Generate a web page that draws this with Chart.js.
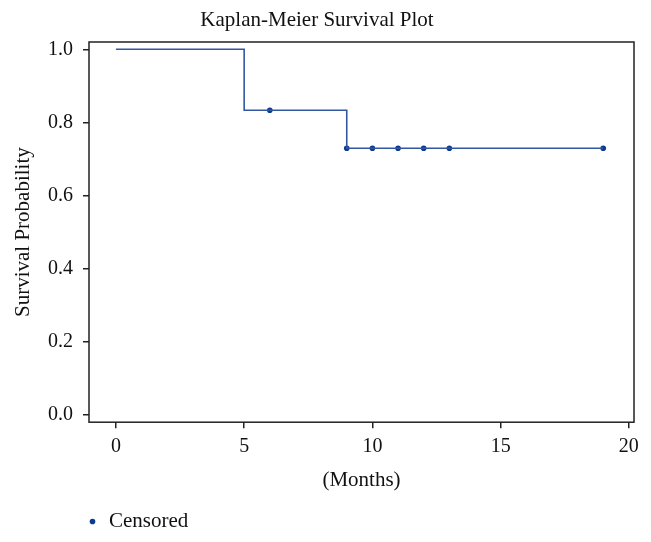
<!DOCTYPE html>
<html>
<head>
<meta charset="utf-8">
<script src="https://cdn.jsdelivr.net/npm/chart.js@4.4.1/dist/chart.umd.min.js"></script>
<style>
    body { margin: 0; background: #fff; }
    #wrap { width: 651px; height: 542px; }
</style>
</head>
<body>
<div id="wrap"><canvas id="kmChart" width="651" height="542"></canvas></div>
<script>
// Kaplan-Meier estimate (time in months -> survival probability)
const stepTimes = [0, 5, 9, 19];
const stepSurvival = [1.0, 0.8333, 0.7292, 0.7292];

// censored observations
const censoredTimes = [6, 9, 10, 11, 12, 13, 19];
const censoredSurvival = [0.8333, 0.7292, 0.7292, 0.7292, 0.7292, 0.7292, 0.7292];

const xTicks = [0, 5, 10, 15, 20];
const yTicks = [0.0, 0.2, 0.4, 0.6, 0.8, 1.0];

const serif = "'Liberation Serif', 'DejaVu Serif', serif";

// draw the full box around the plot area
const boxPlugin = {
    id: 'plotBox',
    afterDatasetsDraw(chart) {
        const a = chart.chartArea;
        const ctx = chart.ctx;
        ctx.save();
        ctx.strokeStyle = '#222';
        ctx.lineWidth = 1.5;
        ctx.strokeRect(a.left, a.top, a.right - a.left, a.bottom - a.top);
        ctx.restore();
    }
};

// move the legend so it starts under the plot area
const legendShift = {
    id: 'legendShift',
    afterLayout(chart) {
        if (chart.legend) {
            chart.legend.left = 76.5;
        }
    }
};

const ctx = document.getElementById('kmChart').getContext('2d');
new Chart(ctx, {
    type: 'scatter',
    data: {
        datasets: [{
            label: 'Survival',
            data: stepTimes.map((t, i) => ({ x: t, y: stepSurvival[i] })),
            showLine: true,
            stepped: true,
            borderColor: '#3356a3',
            borderWidth: 1.6,
            pointRadius: 0,
            fill: false
        }, {
            label: 'Censored',
            data: censoredTimes.map((t, i) => ({ x: t, y: censoredSurvival[i] })),
            showLine: false,
            pointRadius: 2.8,
            pointStyle: 'circle',
            backgroundColor: '#0b3a92',
            borderColor: '#0b3a92',
            borderWidth: 0
        }]
    },
    options: {
        responsive: false,
        animation: false,
        layout: { padding: { left: 0, right: 17, top: 0, bottom: 0 } },
        plugins: {
            title: {
                display: true,
                text: 'Kaplan-Meier Survival Plot',
                color: '#111',
                font: { family: serif, size: 21, weight: 'normal', lineHeight: 1.2 },
                padding: { top: 8, bottom: 8.8 }
            },
            legend: {
                position: 'bottom',
                align: 'start',
                labels: {
                    filter: item => item.text === 'Censored',
                    usePointStyle: true,
                    pointStyle: 'circle',
                    boxWidth: 12,
                    boxHeight: 4,
                    padding: 10,
                    color: '#111',
                    font: { family: serif, size: 21, lineHeight: 1.2 }
                }
            },
            tooltip: { enabled: false }
        },
        scales: {
            x: {
                type: 'linear',
                min: -1.05,
                max: 20.2,
                afterFit(scale) { scale.height = 78.8; },
                afterBuildTicks(scale) { scale.ticks = xTicks.map(v => ({ value: v })); },
                border: { display: false },
                grid: { drawOnChartArea: false, drawTicks: true, tickLength: 6, color: '#222', lineWidth: 1.5 },
                ticks: {
                    color: '#111',
                    padding: 7,
                    font: { family: serif, size: 20 },
                    callback: v => String(v)
                },
                title: {
                    display: true,
                    text: '(Months)',
                    color: '#111',
                    font: { family: serif, size: 21, lineHeight: 1.2 },
                    padding: { top: 0, bottom: 8.2 }
                }
            },
            y: {
                type: 'linear',
                min: -0.02,
                max: 1.02,
                afterFit(scale) { scale.width = 89; },
                afterBuildTicks(scale) { scale.ticks = yTicks.map(v => ({ value: v })); },
                border: { display: false },
                grid: { drawOnChartArea: false, drawTicks: true, tickLength: 6, color: '#222', lineWidth: 1.5 },
                ticks: {
                    color: '#111',
                    padding: 10,
                    font: { family: serif, size: 20 },
                    callback: v => Number(v).toFixed(1)
                },
                title: {
                    display: true,
                    text: 'Survival Probability',
                    color: '#111',
                    font: { family: serif, size: 21, lineHeight: 1.2 },
                    padding: { top: 11, bottom: 0 }
                }
            }
        }
    },
    plugins: [boxPlugin, legendShift]
});
</script>
</body>
</html>
